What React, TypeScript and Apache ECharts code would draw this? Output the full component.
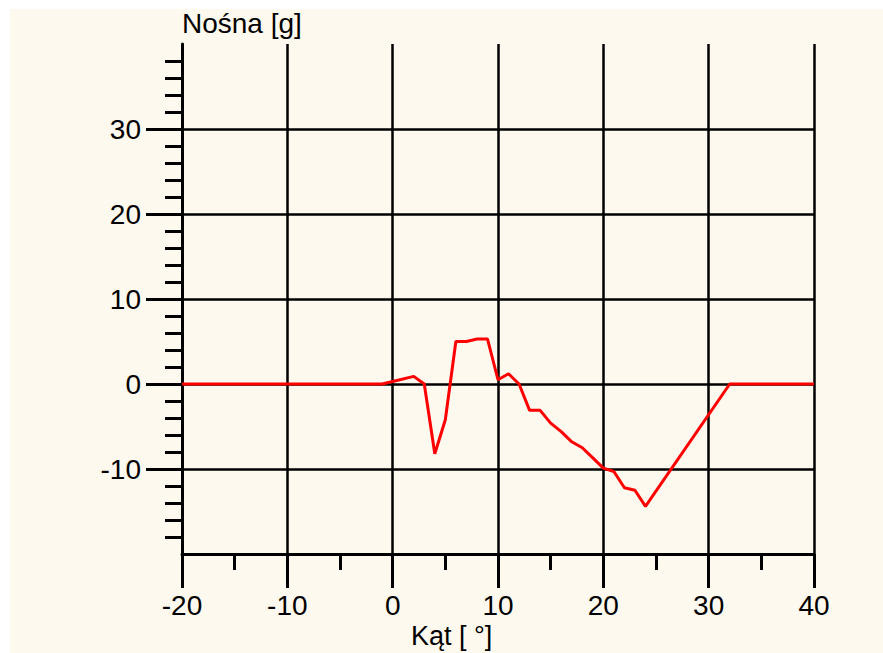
import React, { useEffect, useRef } from "react";
import * as echarts from "echarts";

const angles = [-20, -1, 0, 2, 3, 4, 5, 6, 7, 8, 9, 10, 11, 12, 13, 14, 15, 16, 17, 18, 19, 20, 21, 22, 23, 24, 32, 40];
const lift = [0, 0, 0.3, 0.9, 0, -8.2, -4.2, 5.0, 5.0, 5.3, 5.3, 0.5, 1.2, 0, -3.1, -3.1, -4.6, -5.6, -6.8, -7.5, -8.7, -9.9, -10.3, -12.2, -12.5, -14.4, 0, 0];
const yMajorTicks = [-10, 0, 10, 20, 30];
const yMinorTicks = [-18, -16, -14, -12, -8, -6, -4, -2, 2, 4, 6, 8, 12, 14, 16, 18, 22, 24, 26, 28, 32, 34, 36, 38];
const xName = "Kąt [ °]";
const yName = "Nośna [g]";

const FONT = "'Liberation Sans', Arial, sans-serif";
const BLACK = "#000000";

export default function App() {
  const ref = useRef<HTMLDivElement>(null);
  useEffect(() => {
    if (!ref.current) return;
    const chart = echarts.init(ref.current, null, { renderer: "svg" });
    chart.setOption({
      animation: false,
      backgroundColor: "#FEF9EE",
      grid: { left: 172, top: 35, right: 69, bottom: 99, containLabel: false },
      graphic: [
        {
          type: "text",
          left: 172,
          top: 0,
          style: { text: yName, font: `28px ${FONT}`, fill: BLACK },
        },
        {
          type: "text",
          left: 401,
          top: 613,
          style: { text: xName, font: `27px ${FONT}`, fill: BLACK },
        },
      ],
      xAxis: {
        type: "value",
        min: -20,
        max: 40,
        interval: 10,
        axisLine: { show: true, onZero: false, lineStyle: { color: BLACK, width: 3 } },
        axisTick: { show: true, length: 34, lineStyle: { color: BLACK, width: 3 } },
        minorTick: { show: true, splitNumber: 2, length: 16, lineStyle: { color: BLACK, width: 3 } },
        splitLine: { show: true, lineStyle: { color: BLACK, width: 2.5 } },
        axisLabel: { margin: 37, fontSize: 28, fontFamily: FONT, color: BLACK },
      },
      yAxis: [
        {
          type: "value",
          min: -20,
          max: 40,
          interval: 10,
          position: "left",
          axisLine: { show: true, onZero: false, lineStyle: { color: BLACK, width: 3 } },
          axisTick: { show: true, length: 36, customValues: yMajorTicks, lineStyle: { color: BLACK, width: 3 } },
          splitLine: { show: true, lineStyle: { color: BLACK, width: 2.5 } },
          axisLabel: {
            margin: 41,
            fontSize: 28,
            fontFamily: FONT,
            color: BLACK,
            customValues: yMajorTicks,
            formatter: (v: number) => (v <= -20 || v >= 40 ? "" : String(v)),
          },
        },
        {
          type: "value",
          min: -20,
          max: 40,
          interval: 2,
          position: "left",
          offset: 0,
          axisLine: { show: false, onZero: false },
          axisTick: { show: true, length: 17, customValues: yMinorTicks, lineStyle: { color: BLACK, width: 3 } },
          splitLine: { show: false },
          axisLabel: { show: false },
        },
      ],
      series: [
        {
          type: "line",
          data: angles.map((a, i) => [a, lift[i]]),
          symbol: "none",
          lineStyle: { color: "#FF0000", width: 3 },
          z: 5,
        },
      ],
    });
    return () => chart.dispose();
  }, []);
  return (
    <div
      ref={ref}
      style={{ position: "absolute", left: 10, top: 9, width: 873, height: 644 }}
    />
  );
}
